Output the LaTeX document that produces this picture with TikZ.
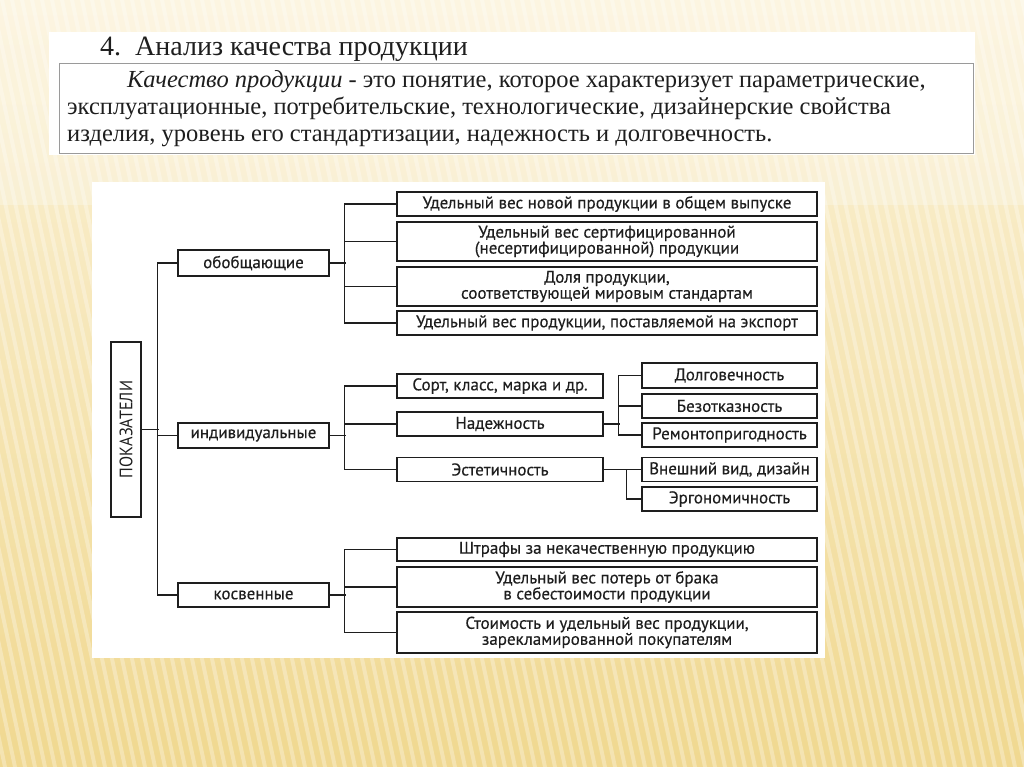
\documentclass[tikz,border=0pt]{standalone}
\usepackage{fontspec}
\setmainfont{Liberation Serif}
\newfontfamily\serifn{Liberation Serif}
\newfontfamily\diagf{PT Sans}[FakeBold=0.3]
\newfontfamily\diagn{PT Sans}[FakeStretch=0.9]
\definecolor{bgtop}{HTML}{FBF2D8}
\definecolor{bgbot}{HTML}{F0D890}
\definecolor{ink}{HTML}{1E1E1E}
\definecolor{frame}{HTML}{9A9A9A}
\tikzset{
  box/.style={draw=ink, line width=1.6pt, fill=white, inner sep=0pt, align=center,
    font=\diagf\fontsize{17}{16}\selectfont, text=ink},
  wide/.style={box, minimum width=420pt},
  mid/.style={box, minimum width=206pt},
  lvl/.style={box, minimum width=151pt},
  small/.style={box, minimum width=175pt},
  conn/.style={draw=ink, line width=1.3pt},
  ptext/.style={anchor=base west, inner sep=0pt, text=ink, font=\serifn\fontsize{24.5}{27}\selectfont}
}
\begin{document}
\begin{tikzpicture}[x=1pt,y=-1pt]
\useasboundingbox (0,0) rectangle (1024,767);
% background
\fill[top color=bgtop, bottom color=bgbot] (0,0) rectangle (1024,767);
\fill[white, opacity=0.25] (0,0) rectangle (1024,205);
\foreach \i in {-20,...,104}{
  \fill[white, opacity=0.3] (\i*10,0) -- (\i*10+4,0) -- (\i*10+167,767) -- (\i*10+163,767) -- cycle;
}
% title panel
\fill[white] (49,32) rectangle (975,155);
\draw[frame, line width=0.9pt] (59,63) rectangle (973,153);
\node[ptext, font=\serifn\fontsize{28}{30}\selectfont] (title) at (100,56) {4.\ \ Анализ качества продукции};
\node[ptext] (p1) at (127,88) {\textit{Качество продукции} - это понятие, которое характеризует параметрические,};
\node[ptext] (p2) at (67,115) {эксплуатационные, потребительские, технологические, дизайнерские свойства};
\node[ptext] (p3) at (67,142) {изделия, уровень его стандартизации, надежность и долговечность.};
% diagram panel
\fill[white] (92,182) rectangle (825,658);
% boxes
\node[box, minimum width=30pt, minimum height=175pt] (pk) at (126,429.5) {};
\node[font=\diagn\fontsize{18}{18}\selectfont, text=ink, rotate=90] (pkt) at (pk.center) {ПОКАЗАТЕЛИ};
\node[lvl, minimum height=26pt] (l1a) at (253.5,263) {обобщающие};
\node[lvl, minimum height=25pt] (l1b) at (253.5,435.5) {индивидуальные};
\node[lvl, minimum height=24pt] (l1c) at (253.5,595) {косвенные};
\node[wide, minimum height=24pt] (a1) at (607,204) {Удельный вес новой продукции в общем выпуске};
\node[wide, minimum height=39pt] (a2) at (607,241.5) {Удельный вес сертифицированной\\(несертифицированной) продукции};
\node[wide, minimum height=39pt] (a3) at (607,286.5) {Доля продукции,\\соответствующей мировым стандартам};
\node[wide, minimum height=24pt] (a4) at (607,323) {Удельный вес продукции, поставляемой на экспорт};
\node[mid, minimum height=24pt] (b1) at (500,386) {Сорт, класс, марка и др.};
\node[mid, minimum height=24pt] (b2) at (500,424) {Надежность};
\node[mid, minimum height=24pt] (b3) at (500,469.5) {Эстетичность};
\node[small, minimum height=25pt] (c1) at (729.5,375.5) {Долговечность};
\node[small, minimum height=24pt] (c2) at (729.5,406) {Безотказность};
\node[small, minimum height=24pt] (c3) at (729.5,435) {Ремонтопригодность};
\node[small, minimum height=24pt] (c4) at (729.5,469.5) {Внешний вид, дизайн};
\node[small, minimum height=24pt] (c5) at (729.5,499) {Эргономичность};
\node[wide, minimum height=23pt] (d1) at (607,549.5) {Штрафы за некачественную продукцию};
\node[wide, minimum height=40pt] (d2) at (607,587) {Удельный вес потерь от брака\\в себестоимости продукции};
\node[wide, minimum height=41pt] (d3) at (607,632.5) {Стоимость и удельный вес продукции,\\зарекламированной покупателям};
% connectors
\draw[conn] (pk.east) -- ++(17,0);
\draw[conn] (l1a.west) -- ++(-20,0) |- (l1c.west);
\draw[conn] (l1b.west) -- ++(-20,0);
\draw[conn] (l1a.east) -- ++(16,0);
\draw[conn] (a1.west) -- ++(-52,0) |- (a4.west);
\draw[conn] (a2.west) -- ++(-52,0);
\draw[conn] (a3.west) -- ++(-52,0);
\draw[conn] (l1b.east) -- ++(16,0);
\draw[conn] (b1.west) -- ++(-52,0) |- (b3.west);
\draw[conn] (b2.west) -- ++(-52,0);
\draw[conn] (b2.east) -- ++(16,0);
\draw[conn] (c1.west) -- ++(-23,0) |- (c3.west);
\draw[conn] (c2.west) -- ++(-23,0);
\draw[conn] (b3.east) -- (c4.west);
\draw[conn] (c5.west) -- ++(-15,0) |- (c4.west);
\draw[conn] (l1c.east) -- ++(16,0);
\draw[conn] (d1.west) -- ++(-52,0) |- (d3.west);
\draw[conn] (d2.west) -- ++(-52,0);
\end{tikzpicture}
\end{document}
